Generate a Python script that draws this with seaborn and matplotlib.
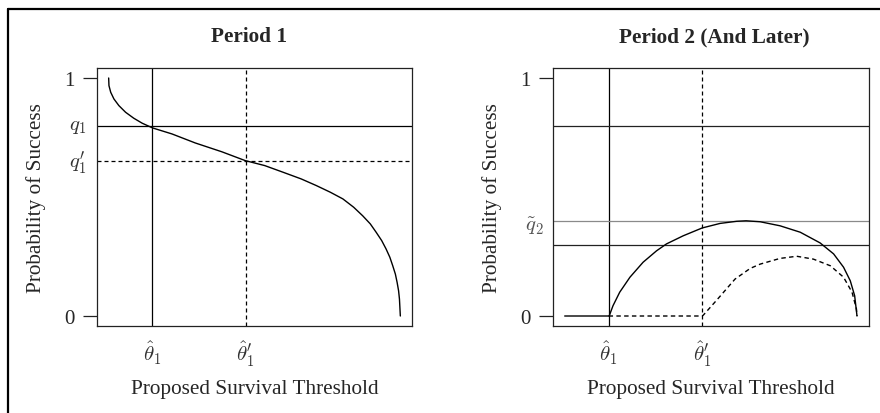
import numpy as np
import pandas as pd
import matplotlib
matplotlib.use("Agg")
import matplotlib.pyplot as plt
from matplotlib.lines import Line2D
import seaborn as sns

# ==========================================
# data (x: threshold 0..1, y: probability)
# ==========================================
p1_x = [0.0, 0.001, 0.007, 0.018, 0.035, 0.058, 0.086, 0.115, 0.151, 0.217, 0.297, 0.388,
        0.468, 0.535, 0.598, 0.660, 0.712, 0.760, 0.803, 0.840, 0.871, 0.897, 0.917, 0.936,
        0.951, 0.964, 0.974, 0.983, 0.989, 0.994, 0.997, 1.0]
p1_y = [1.0, 0.968, 0.940, 0.912, 0.884, 0.856, 0.831, 0.810, 0.790, 0.765, 0.727, 0.690,
        0.653, 0.632, 0.604, 0.576, 0.548, 0.520, 0.492, 0.457, 0.421, 0.387, 0.352, 0.317,
        0.282, 0.247, 0.211, 0.176, 0.141, 0.106, 0.071, 0.0]

p2_solid_x = [0.0, 0.152, 0.165, 0.188, 0.223, 0.268, 0.314, 0.348, 0.405, 0.470, 0.531,
              0.588, 0.620, 0.668, 0.736, 0.805, 0.873, 0.919, 0.953, 0.976, 0.991, 0.999]
p2_solid_y = [0.0, 0.0, 0.043, 0.100, 0.163, 0.226, 0.274, 0.303, 0.337, 0.370, 0.389,
              0.398, 0.400, 0.396, 0.379, 0.352, 0.307, 0.261, 0.205, 0.148, 0.085, 0.0]

p2_dash_x = [0.15, 0.47, 0.474, 0.519, 0.582, 0.634, 0.668, 0.736, 0.793, 0.850, 0.908,
             0.953, 0.982, 0.997, 0.999]
p2_dash_y = [0.0, 0.0, 0.004, 0.066, 0.155, 0.200, 0.218, 0.242, 0.251, 0.239, 0.211,
             0.163, 0.100, 0.030, 0.0]

theta1 = 0.15
theta1p = 0.47
q1 = 0.80
q1p = 0.65
q2_tilde = 0.40
p2_upper = 0.80
p2_lower = 0.30

titles = ["Period 1", "Period 2 (And Later)"]
xlab = "Proposed Survival Threshold"
ylab = "Probability of Success"

# ==========================================
# style
# ==========================================
sns.set_theme(style="white")
plt.rcParams['font.family'] = ['Liberation Serif', 'DejaVu Serif']
plt.rcParams['mathtext.fontset'] = 'cm'

FS = 15.3
DASH = (0, (3.2, 2.4))
LW = 0.9

fig = plt.figure(figsize=(8.8, 4.14), dpi=100)
ax1 = fig.add_axes([97 / 880, 1 - 327 / 414, 315 / 880, 258 / 414])
ax2 = fig.add_axes([553 / 880, 1 - 327 / 414, 316 / 880, 258 / 414])

df1 = pd.DataFrame({"x": p1_x, "y": p1_y})
df2s = pd.DataFrame({"x": p2_solid_x, "y": p2_solid_y})
df2d = pd.DataFrame({"x": p2_dash_x, "y": p2_dash_y})


def base_axes(ax, ylabel_x, title, title_x):
    ax.set_xlim(-0.04, 1.04)
    ax.set_ylim(-0.042, 1.042)
    for s in ax.spines.values():
        s.set_color("#222222")
        s.set_linewidth(0.9)
    ax.set_yticks([0, 1])
    ax.set_yticklabels(["0", "1"], fontsize=15)
    ax.tick_params(axis="y", length=10, width=0.9, pad=6, color="#222222", left=True)
    ax.set_xticks([theta1, theta1p])
    ax.set_xticklabels([r"$\hat{\theta}_1$", r"$\hat{\theta}_1'$"], fontsize=15, color="#333333")
    ax.tick_params(axis="x", length=0, pad=9)
    ax.set_xlabel(xlab, fontsize=FS)
    ax.set_ylabel(ylab, fontsize=FS)
    ax.xaxis.set_label_coords(0.465, -0.205)
    ax.yaxis.set_label_coords(ylabel_x, 0.46)
    ax.text(title_x, 1.124, title, transform=ax.transAxes, ha="center", va="center",
            fontsize=FS, fontweight="bold")


# left panel
base_axes(ax1, -0.163, titles[0], 0.483)
ax1.axvline(theta1, color="black", lw=LW)
ax1.axvline(theta1p, color="black", lw=LW, ls=DASH)
ax1.axhline(q1, color="black", lw=LW)
ax1.axhline(q1p, color="black", lw=LW, ls=DASH)
sns.lineplot(data=df1, x="x", y="y", ax=ax1, color="black", lw=1.0, sort=False, estimator=None)
ytr = ax1.get_yaxis_transform()
ax1.text(-0.035, q1, r"$q_1$", transform=ytr, ha="right", va="center", fontsize=15, color="#333333")
ax1.text(-0.035, q1p, r"$q_1'$", transform=ytr, ha="right", va="center", fontsize=15, color="#333333")
ax1.set_xlabel(xlab, fontsize=FS)
ax1.set_ylabel(ylab, fontsize=FS)

# right panel
base_axes(ax2, -0.16, titles[1], 0.509)
ax2.axvline(theta1, color="black", lw=LW)
ax2.axvline(theta1p, color="black", lw=LW, ls=DASH)
ax2.axhline(p2_upper, color="#222222", lw=LW)
ax2.axhline(q2_tilde, color="#8a8a8a", lw=LW)
ax2.axhline(p2_lower, color="#222222", lw=LW)
sns.lineplot(data=df2s, x="x", y="y", ax=ax2, color="black", lw=1.0, sort=False, estimator=None)
sns.lineplot(data=df2d, x="x", y="y", ax=ax2, color="black", lw=1.0, sort=False, estimator=None,
             linestyle=DASH)
ytr2 = ax2.get_yaxis_transform()
ax2.text(-0.03, q2_tilde - 0.02, r"$\tilde{q}_2$", transform=ytr2, ha="right", va="center",
         fontsize=15, color="#555555")
ax2.set_xlabel(xlab, fontsize=FS)
ax2.set_ylabel(ylab, fontsize=FS)

# outer frame (top + left edge only)
fig.add_artist(Line2D([7.5 / 880, 1.0], [1 - 9.5 / 414, 1 - 9.5 / 414], color="black", lw=1.6,
                      transform=fig.transFigure))
fig.add_artist(Line2D([7.5 / 880, 7.5 / 880], [0.0, 1 - 9.5 / 414], color="black", lw=1.6,
                      transform=fig.transFigure))

fig.savefig("out.png", dpi=100)
plt.close(fig)
